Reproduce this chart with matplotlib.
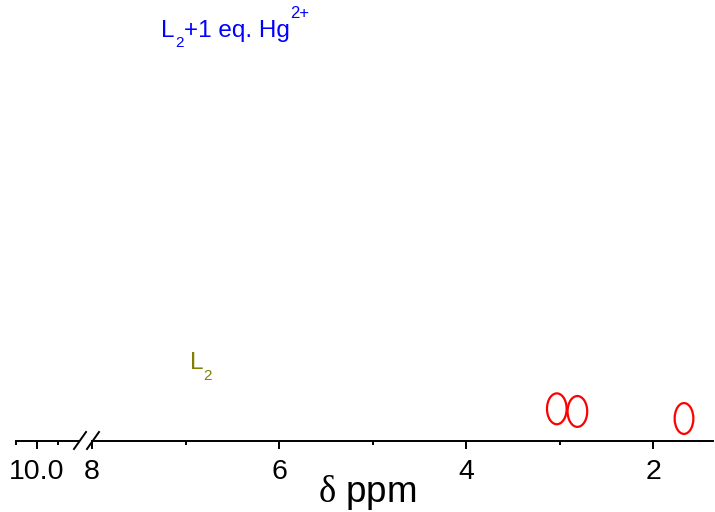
#!/usr/bin/env python3
# 1H NMR comparison panel: L2 vs L2 + 1 eq. Hg2+, broken ppm axis

import matplotlib
matplotlib.use("Agg")
import matplotlib.pyplot as plt
from matplotlib.patches import Ellipse
from matplotlib.lines import Line2D

plt.rcParams["font.family"] = ["Liberation Sans", "DejaVu Sans"]
plt.rcParams["mathtext.fontset"] = "custom"
plt.rcParams["mathtext.rm"] = "Liberation Serif"

# axis layout (ppm)
left_lim = (10.5, 9.0)
right_lim = (8.0, 1.36)
left_major = [10.0]
left_minor = [10.5, 9.5]
right_major = [8, 6, 4, 2]
right_minor = [7, 5, 3]

# circled peaks (ppm, height, width in ppm, height in axis units)
peak_ppm = [3.03, 2.81, 1.67]
peak_y = [0.073, 0.067, 0.051]
peak_w = [0.21, 0.21, 0.20]
peak_h = [0.070, 0.070, 0.070]

# trace labels: pieces of (text, size, rise in pt)
blue_parts = [("L", 17.5, 0), ("2", 11, -7.6), ("+1 eq. Hg", 17.5, 0), ("2+", 12, 13.3)]
olive_parts = [("L", 17.5, 0), ("2", 11, -7.6)]
label_ppm = [7.26, 6.955]
label_y = [0.917, 0.163]
label_col = ["#0000ff", "#808000"]

W, H = 715, 512
fig = plt.figure(figsize=(W / 100, H / 100), dpi=100)
ybot = (H - 441) / H
ax1 = fig.add_axes([16 / W, ybot, (79 - 16) / W, 1 - ybot])
ax2 = fig.add_axes([92 / W, ybot, (713 - 92) / W, 1 - ybot])

for ax, lim, maj, mnr in [(ax1, left_lim, left_major, left_minor),
                          (ax2, right_lim, right_major, right_minor)]:
    ax.set_xlim(*lim)
    ax.set_ylim(0, 1)
    for s in ["top", "left", "right"]:
        ax.spines[s].set_visible(False)
    ax.spines["bottom"].set_linewidth(1.4)
    ax.set_yticks([])
    ax.set_xticks(maj)
    ax.set_xticks(mnr, minor=True)
    ax.tick_params(axis="x", which="major", direction="out", length=5.8, width=1.4,
                   labelsize=20.5, pad=7.5)
    ax.tick_params(axis="x", which="minor", direction="out", length=2.9, width=1.4)
    ax.patch.set_alpha(0)

ax1.set_xticklabels(["10.0"])
ax2.set_xticklabels([str(t) for t in right_major])

for x, y, w, h in zip(peak_ppm, peak_y, peak_w, peak_h):
    ax2.add_patch(Ellipse((x, y), w, h, fill=False, edgecolor="red", lw=1.6))


def rich_label(ax, x, y, parts, color):
    s, size, _ = parts[0]
    prev = ax.text(x, y, s, fontsize=size, color=color, ha="left", va="baseline")
    for s, size, rise in parts[1:]:
        prev = ax.annotate(s, xy=(1, y), xycoords=(prev, "data"),
                           xytext=(0.3, rise), textcoords="offset points",
                           fontsize=size, color=color, ha="left", va="baseline")


for parts, x, y, c in zip([blue_parts, olive_parts], label_ppm, label_y, label_col):
    rich_label(ax2, x, y, parts, c)

# axis break marks
for x0 in (74, 87):
    fig.add_artist(Line2D([x0 / W, (x0 + 12) / W], [(H - 449) / H, (H - 432) / H],
                          color="black", lw=1.4))

fig.text(367 / W, (H - 502) / H, r"$\mathrm{\delta}$ ppm", fontsize=26.5,
         ha="center", va="baseline")

fig.savefig("out.png", dpi=100)
